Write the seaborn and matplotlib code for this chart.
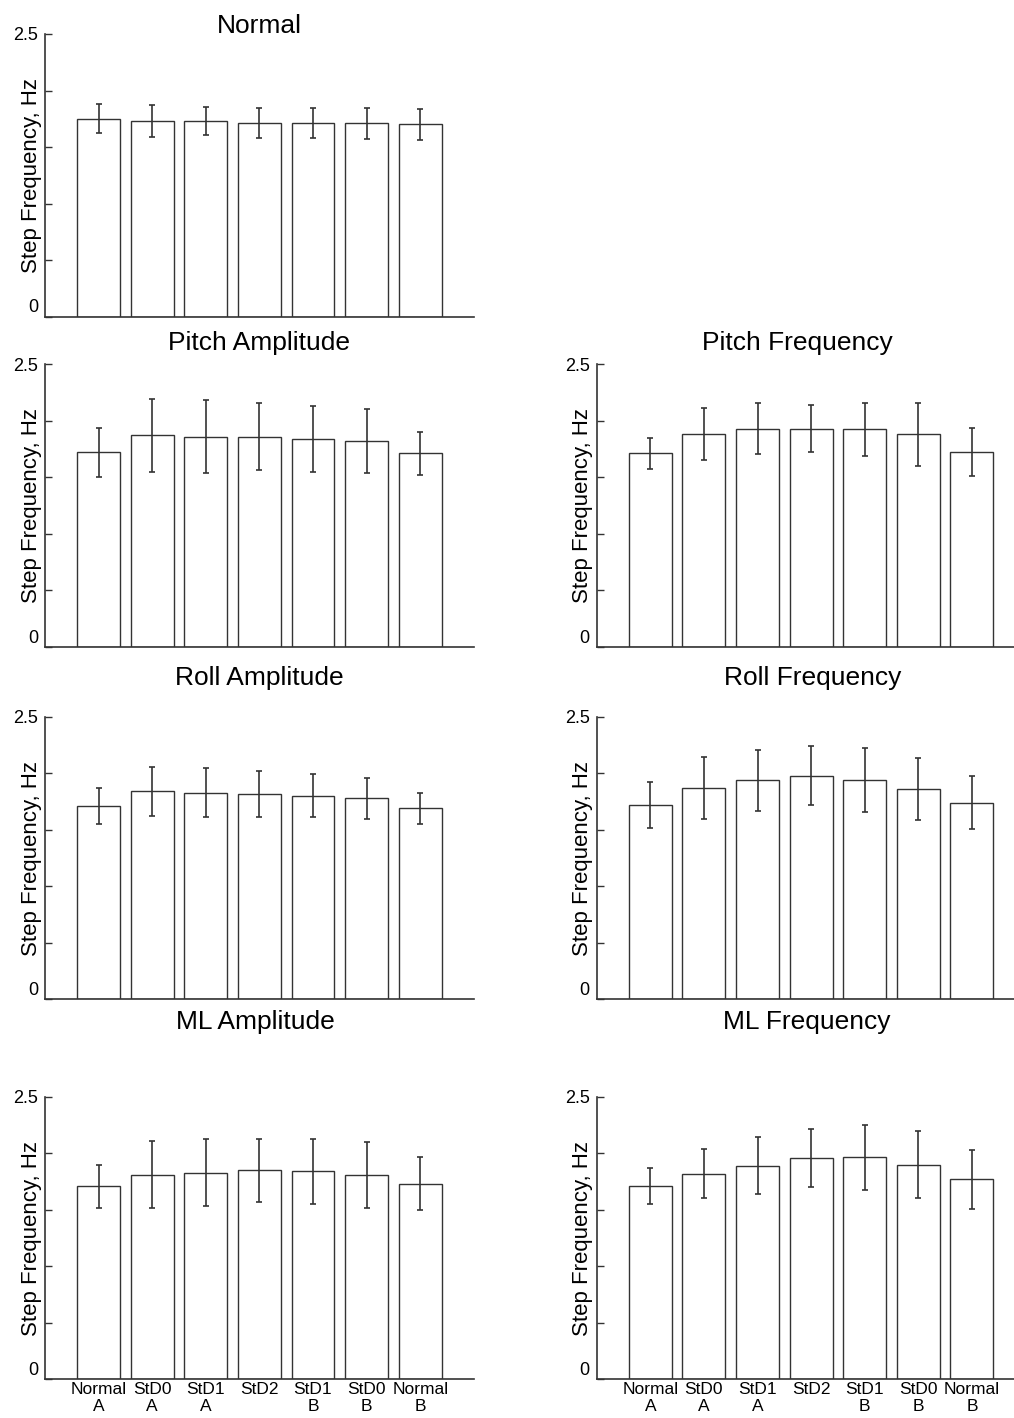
#!/usr/bin/env python3
"""Step frequency per condition, 7 panels (Normal + amplitude/frequency pairs)."""

import matplotlib
matplotlib.use("Agg")
import matplotlib.pyplot as plt
import seaborn as sns

# conditions on the x axis
conditions = ["Normal\nA", "StD0\nA", "StD1\nA", "StD2", "StD1\nB", "StD0\nB", "Normal\nB"]

# bar heights (mean) and error bars (+/- sd)
normal_mean = [1.75, 1.73, 1.73, 1.71, 1.71, 1.71, 1.70]
normal_sd = [0.13, 0.145, 0.125, 0.133, 0.133, 0.139, 0.135]

pitch_amp_mean = [1.72, 1.87, 1.86, 1.86, 1.84, 1.82, 1.71]
pitch_amp_sd = [0.217, 0.32, 0.325, 0.30, 0.29, 0.28, 0.19]

pitch_freq_mean = [1.71, 1.88, 1.93, 1.93, 1.925, 1.88, 1.725]
pitch_freq_sd = [0.14, 0.23, 0.227, 0.21, 0.235, 0.277, 0.21]

roll_amp_mean = [1.71, 1.84, 1.83, 1.82, 1.80, 1.78, 1.69]
roll_amp_sd = [0.16, 0.216, 0.22, 0.204, 0.19, 0.18, 0.137]

roll_freq_mean = [1.72, 1.87, 1.94, 1.98, 1.94, 1.86, 1.74]
roll_freq_sd = [0.20, 0.278, 0.27, 0.263, 0.28, 0.273, 0.232]

ml_amp_mean = [1.71, 1.81, 1.83, 1.85, 1.84, 1.81, 1.73]
ml_amp_sd = [0.19, 0.295, 0.30, 0.28, 0.29, 0.29, 0.235]

ml_freq_mean = [1.71, 1.82, 1.89, 1.96, 1.965, 1.90, 1.77]
ml_freq_sd = [0.16, 0.214, 0.254, 0.256, 0.287, 0.293, 0.263]

titles = ["Normal", "Pitch Amplitude", "Pitch Frequency", "Roll Amplitude",
          "Roll Frequency", "ML Amplitude", "ML Frequency"]

ytick_vals = [0, 0.5, 1.0, 1.5, 2.0, 2.5]
ytick_text = ["0", "", "", "", "", "2.5"]

LINE = "#333333"
W, H = 1014, 1418

sns.set_theme(style="white")
plt.rcParams["font.family"] = ["Liberation Sans", "DejaVu Sans"]
plt.rcParams["ytick.direction"] = "in"

# layout in pixels: (left, bottom_of_axes, title_x_frac, title_pad_px, show_xlabels)
left_px, right_px = 45, 596.7
ax_w, ax_h = 428.8, 282.5
layout = [
    (left_px, 316.5, 0.50, 1, False),
    (left_px, 646.7, 0.50, 14, False),
    (right_px, 646.7, 0.469, 14, False),
    (left_px, 999.3, 0.50, 32, False),
    (right_px, 999.3, 0.504, 32, False),
    (left_px, 1379.3, 0.49, 68, True),
    (right_px, 1379.3, 0.49, 68, True),
]
series = [
    (normal_mean, normal_sd),
    (pitch_amp_mean, pitch_amp_sd),
    (pitch_freq_mean, pitch_freq_sd),
    (roll_amp_mean, roll_amp_sd),
    (roll_freq_mean, roll_freq_sd),
    (ml_amp_mean, ml_amp_sd),
    (ml_freq_mean, ml_freq_sd),
]

fig = plt.figure(figsize=(W / 100, H / 100), dpi=100)

for title, (mean, sd), (lx, by, tx, tpad, show_x) in zip(titles, series, layout):
    ax = fig.add_axes([lx / W, 1 - by / H, ax_w / W, ax_h / H])
    sns.barplot(x=conditions, y=mean, order=conditions, color="white",
                saturation=1, edgecolor=LINE, linewidth=1.0, width=0.8,
                errorbar=None, ax=ax)
    ax.errorbar(range(len(conditions)), mean, yerr=sd, fmt="none",
                ecolor=LINE, elinewidth=1.2, capsize=2.5, capthick=1.2)

    ax.set_xlim(-1, len(conditions))
    ax.set_ylim(0, 2.5)
    ax.set_yticks(ytick_vals)
    ax.set_yticklabels(ytick_text, fontsize=13, color="black")
    ax.get_yticklabels()[0].set_verticalalignment("bottom")
    ax.tick_params(axis="y", direction="in", length=5, width=1.0,
                   color=LINE, pad=5, left=True)
    ax.tick_params(axis="x", length=0, pad=2, labelsize=12.5,
                   labelbottom=show_x, labelcolor="black")
    ax.set_xlabel("")
    ax.set_ylabel("Step Frequency, Hz", fontsize=16, color="black")
    ax.yaxis.set_label_coords(-0.008, 0.5)

    sns.despine(ax=ax)
    for side in ("left", "bottom"):
        ax.spines[side].set_color(LINE)
        ax.spines[side].set_linewidth(1.2)

    ax.set_title(title, fontsize=19, color="black", x=tx, y=1.0,
                 pad=tpad * 0.72)

fig.savefig("out.png", dpi=100)
